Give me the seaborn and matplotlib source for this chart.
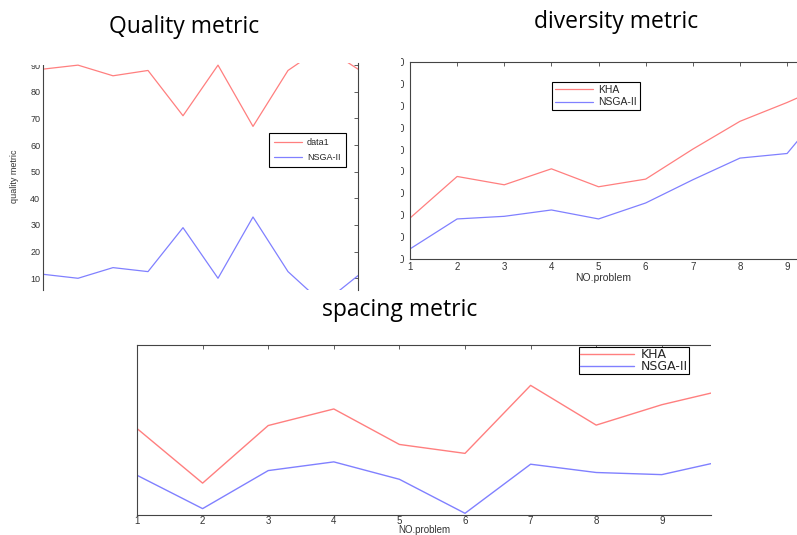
import matplotlib.pyplot as plt
import matplotlib.patches as mpatches
import seaborn as sns

# values (x = problem number)
problems = [1, 2, 3, 4, 5, 6, 7, 8, 9, 10]

quality_kha = [88.5, 90, 86, 88, 71, 90, 67, 88, 97, 88.5]
quality_nsga = [11.5, 10, 14, 12.5, 29, 10, 33, 12.5, 0.5, 11]
quality_ticks = [10, 20, 30, 40, 50, 60, 70, 80, 90]

diversity_kha = [1.87, 3.77, 3.39, 4.12, 3.30, 3.65, 5.02, 6.29, 7.15, 8.1]
diversity_nsga = [0.46, 1.83, 1.95, 2.24, 1.83, 2.56, 3.62, 4.61, 4.82, 7.4]
diversity_yticks = [0, 1, 2, 3, 4, 5, 6, 7, 8, 9]

spacing_kha = [4.07, 1.50, 4.21, 4.99, 3.32, 2.90, 6.10, 4.23, 5.19, 5.92]
spacing_nsga = [1.87, 0.30, 2.09, 2.50, 1.68, 0.08, 2.39, 2.00, 1.90, 2.59]
spacing_yticks = [0, 1, 2, 3, 4, 5, 6, 7, 8]

red = '#ff7f7f'
blue = '#8080ff'

sns.set_style('white')
plt.rcParams['font.family'] = ['Liberation Sans', 'DejaVu Sans']

W, H = 797, 535
fig = plt.figure(figsize=(W / 100, H / 100), dpi=100, facecolor='white')


def box(l, t, r, b):
    return [l / W, 1 - b / H, (r - l) / W, (b - t) / H]


def matlab_look(ax, spines):
    for side in ['left', 'right', 'top', 'bottom']:
        ax.spines[side].set_visible(side in spines)
        ax.spines[side].set_color('#444444')
        ax.spines[side].set_linewidth(0.8)
    ax.tick_params(direction='in', length=3, width=0.6, color='#444444',
                   labelsize=6.5, labelcolor='#333333', pad=2)


def legend_at(ax, x, y, size, hlen, bpad, lspace, family=None):
    leg = ax.legend(loc='upper left',
                    bbox_to_anchor=(x / W, 1 - y / H), bbox_transform=fig.transFigure,
                    borderaxespad=0, fancybox=False, framealpha=1, edgecolor='black',
                    fontsize=size, handlelength=hlen, borderpad=bpad,
                    labelspacing=lspace, handletextpad=0.5)
    leg.get_frame().set_linewidth(0.8)
    if family:
        for t in leg.get_texts():
            t.set_fontfamily(family)
    return leg


# ---- quality metric
ax1 = fig.add_axes(box(43, 63, 358, 290))
sns.lineplot(x=problems, y=quality_kha, ax=ax1, color=red, linewidth=0.9, label='data1')
sns.lineplot(x=problems, y=quality_nsga, ax=ax1, color=blue, linewidth=0.9, label='NSGA-II')
ax1.set_xlim(1, 10)
ax1.set_ylim(5.6, 90.8)
ax1.set_yticks(quality_ticks)
ax1.set_xticks([])
matlab_look(ax1, ['left', 'right'])
ax1.tick_params(axis='y', right=True)
ax1.set_ylabel('quality metric', fontsize=6.5, color='#333333', labelpad=8)
legend_at(ax1, 269, 133, 6.5, 3.1, 0.6, 0.6)

# ---- diversity metric
ax2 = fig.add_axes(box(410, 62, 797, 259))
sns.lineplot(x=problems, y=diversity_kha, ax=ax2, color=red, linewidth=0.9, label='KHA')
sns.lineplot(x=problems, y=diversity_nsga, ax=ax2, color=blue, linewidth=0.9, label='NSGA-II')
ax2.set_xlim(1, 9.21)
ax2.set_ylim(0, 9)
ax2.set_xticks(problems[:9])
ax2.set_yticks(diversity_yticks)
ax2.set_yticklabels(['0'] * len(diversity_yticks))
matlab_look(ax2, ['left', 'top', 'bottom'])
ax2.tick_params(axis='x', top=True, labelsize=7)
ax2.tick_params(axis='y', labelsize=7, pad=4.5)
ax2.set_xlabel('NO.problem', fontsize=7.5, color='#333333', labelpad=1)
legend_at(ax2, 552, 82, 7.5, 3.6, 0.3, 0.2)

# ---- spacing metric
ax3 = fig.add_axes(box(137, 345, 711, 515))
sns.lineplot(x=problems, y=spacing_kha, ax=ax3, color=red, linewidth=1.0, label='KHA')
sns.lineplot(x=problems, y=spacing_nsga, ax=ax3, color=blue, linewidth=1.0, label='NSGA-II')
ax3.set_xlim(1, 9.75)
ax3.set_ylim(0, 8)
ax3.set_xticks(problems[:9])
ax3.set_yticks(spacing_yticks)
ax3.set_yticklabels([])
matlab_look(ax3, ['left', 'top', 'bottom'])
ax3.tick_params(axis='x', top=True, labelsize=7, pad=0.5)
ax3.set_xlabel('NO.problem', fontsize=7, color='#333333', labelpad=-0.5)
legend_at(ax3, 579, 347, 9, 4.3, 0.1, -0.1, family=['DejaVu Sans'])

# white strips mimic the cropped screenshot edges
for l, t, r, b in [(0, 48, 60, 65), (362, 55, 401, 262), (711, 338, 797, 380)]:
    fig.add_artist(mpatches.Rectangle((l / W, 1 - b / H), (r - l) / W, (b - t) / H,
                                      transform=fig.transFigure, facecolor='white',
                                      edgecolor='none', zorder=5))

title_font = dict(fontsize=16.5, fontfamily='Open Sans', color='black', ha='center', va='center')
fig.text(184 / W, 1 - 27 / H, 'Quality metric', **title_font)
fig.text(616 / W, 1 - 22 / H, 'diversity metric', **title_font)
fig.text(400 / W, 1 - 310 / H, 'spacing metric', **title_font)

fig.savefig('out.png', dpi=100, facecolor='white')
